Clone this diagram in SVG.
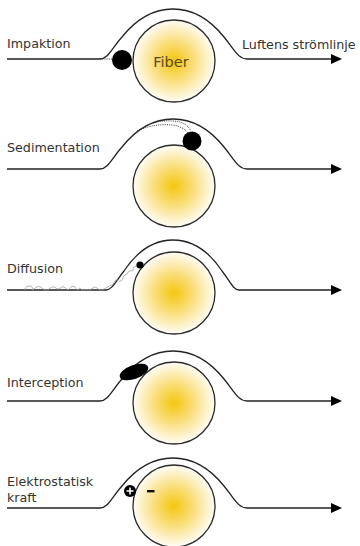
<svg xmlns="http://www.w3.org/2000/svg" width="360" height="546" viewBox="0 0 360 546">
  <style>
    .label { font-family: "DejaVu Sans", Verdana, sans-serif; font-size: 12.7px; fill: #333; }
    .fiber-name { font-family: "DejaVu Sans", Verdana, sans-serif; font-size: 14.5px; fill: #5c4a1e; text-anchor: middle; }
    .fiber { fill: url(#fiberFill); stroke: #2a2a2a; stroke-width: 1.3; }
    .stream { fill: none; stroke: #222; stroke-width: 1.3; marker-end: url(#arrow); }
    .particle { fill: #000; }
    .trail { fill: none; stroke: #333; stroke-width: 1; stroke-dasharray: 1 1.2; }
    .walk { fill: none; stroke: #9a9a9a; stroke-width: 0.8; }
  </style>
  <defs>
    <radialGradient id="fiberFill" cx="0.5" cy="0.5" r="0.5">
      <stop offset="0" stop-color="#f4c60f"/>
      <stop offset="0.5" stop-color="#fadf80"/>
      <stop offset="1" stop-color="#fffdf6"/>
    </radialGradient>
    <marker id="arrow" markerWidth="12" markerHeight="12" refX="1" refY="5" orient="auto" markerUnits="userSpaceOnUse">
      <path d="M0,0 L11,5 L0,10 Z" fill="#000"/>
    </marker>
    <!-- streamline bending over a fiber; baseline at y=0 -->
    <path id="bend" d="M7,0 H100 C108,0 112,-11 122,-22 C134,-37 150,-50 173,-50 C196,-50 212,-37 224,-22 C234,-10 238,0 247,0 H332"/>
  </defs>

  <!-- fibers -->
  <g id="fiber-impaktion">
    <circle class="fiber" cx="174" cy="61" r="41"/>
    <text class="fiber-name" x="171" y="67">Fiber</text>
  </g>
  <g id="fiber-sedimentation">
    <circle class="fiber" cx="174" cy="186" r="41"/>
  </g>
  <g id="fiber-diffusion">
    <circle class="fiber" cx="174" cy="293" r="41"/>
  </g>
  <g id="fiber-interception">
    <circle class="fiber" cx="174" cy="403" r="41"/>
  </g>
  <g id="fiber-elektrostatisk">
    <circle class="fiber" cx="174" cy="506" r="41"/>
  </g>

  <!-- streamlines -->
  <g id="connectors">
    <use href="#bend" class="stream" transform="translate(0,59)"/>
    <use href="#bend" class="stream" transform="translate(0,169)"/>
    <path class="stream" d="M7,290 H106 C112,290 116,281 124,271 C134,256 150,240 173,240 C196,240 212,256 222,271 C230,281 233,290 239,290 H332"/>
    <use href="#bend" class="stream" transform="translate(0,401)"/>
    <use href="#bend" class="stream" transform="translate(0,508)"/>
  </g>

  <!-- particles -->
  <g id="particle-impaktion">
    <path class="trail" d="M100,59 H112"/>
    <circle class="particle" cx="122" cy="60" r="10"/>
  </g>
  <g id="particle-sedimentation">
    <path class="trail" d="M131,137 C145,123 160,120 172,121 C182,121 188,125 191,131"/>
    <path class="trail" d="M137,131 C150,125 162,124 172,125 C180,126 185,129 188,133"/>
    <circle class="particle" cx="192" cy="141" r="9.5"/>
  </g>
  <g id="particle-diffusion">
    <path class="walk" d="M24,290 C26,286 30,285 32,287 C34,289 30,291 34,289 C37,286 40,286 42,288 C44,290 47,291 49,289 C51,287 54,286 56,288 C58,290 60,288 62,287 C64,286 66,289 68,290 C70,288 72,285 75,287 C77,289 77,292 79,289 C80,286 81,291 83,290 C86,289 88,290 90,290 C93,288 95,286 97,288 C99,290 101,291 104,289 C108,287 110,285 112,285 C115,284 113,281 116,280 C119,279 118,283 121,281 C124,279 122,276 125,275 C128,274 127,272 130,271 C132,270 134,272 133,269 C133,267 136,266 139,265"/>
    <circle class="particle" cx="140" cy="265" r="3.6"/>
  </g>
  <g id="particle-interception">
    <ellipse class="particle" cx="134" cy="372" rx="15" ry="7" transform="rotate(-20 134 372)"/>
  </g>
  <g id="particle-elektrostatisk">
    <circle class="particle" cx="130" cy="491" r="6"/>
    <path d="M130,487.5 V494.5 M126.5,491 H133.5" stroke="#fff" stroke-width="1.6"/>
    <rect x="147" y="490" width="7.5" height="2.4" fill="#111"/>
  </g>

  <!-- labels -->
  <g id="labels">
    <text class="label" x="7" y="48">Impaktion</text>
    <text class="label" x="242" y="49">Luftens strömlinje</text>
    <text class="label" x="7" y="152">Sedimentation</text>
    <text class="label" x="7" y="273">Diffusion</text>
    <text class="label" x="7" y="387">Interception</text>
    <text class="label" x="7" y="486">Elektrostatisk</text>
    <text class="label" x="7" y="502">kraft</text>
  </g>
</svg>
